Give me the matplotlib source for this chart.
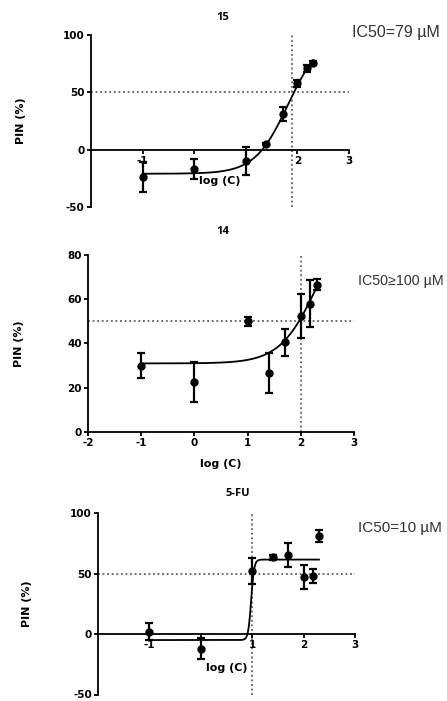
import numpy as np
import matplotlib
matplotlib.use("Agg")
import matplotlib.pyplot as plt

W, H = 447, 701                      # output size in pixels (dpi=100)

# ---- compound 15 ----
x15 = [-1, 0, 1, 1.4, 1.72, 2.0, 2.18, 2.3]
y15 = [-24, -17, -10, 5, 31, 58, 71, 76]
e15 = [13, 9, 12.5, 0.5, 6, 3, 3, 1]
fit15 = [-21, 100, 1.82, 1.35]       # bottom, top, logIC50, hill
ic15_log = 1.9
ic15_text = "IC50=79 \u00b5M"

# ---- compound 14 ----
x14 = [-1, 0, 1, 1.4, 1.7, 2.0, 2.18, 2.3]
y14 = [30, 22.6, 50, 26.5, 40.5, 52.3, 58, 66.5]
e14 = [5.5, 9, 2, 9, 6, 10, 10.5, 2.5]
fit14 = [31, 100, 2.3, 1.25]
ic14_log = 2.0
ic14_text = "IC50\u2265100 \u00b5M"

# ---- 5-FU ----
xfu = [-1, 0, 1, 1.4, 1.7, 2.0, 2.18, 2.3]
yfu = [2, -12, 52, 63.5, 65, 47, 48, 81]
efu = [7, 8.5, 11, 2, 10, 10, 5.5, 5]
fitfu = [-5, 61.5, 0.98, 15]
icfu_log = 1.0
icfu_text = "IC50=10 \u00b5M"

panels = [
    # box = axes in px (left, top, right, bottom); title / tpos = text centres in px
    dict(name="15", x=x15, y=y15, e=e15, fit=fit15, ic=ic15_log, txt=ic15_text,
         box=(91, 35, 349, 207), ylim=(-50, 100), yticks=[-50, 0, 50, 100],
         xticks=[-1, 0, 1, 2, 3], xtl=["-1", "", "", "2", "3"],
         title=(223, 18), tpos=(352, 33), tsize=11.5, xl=0.18, yl=-0.25),
    dict(name="14", x=x14, y=y14, e=e14, fit=fit14, ic=ic14_log, txt=ic14_text,
         box=(88, 255, 354, 432), ylim=(0, 80), yticks=[0, 20, 40, 60, 80],
         xticks=[-2, -1, 0, 1, 2, 3], xtl=["-2", "-1", "0", "1", "2", "3"],
         title=(223, 232), tpos=(358, 281), tsize=10.3, xl=-0.155, yl=-0.24),
    dict(name="5-FU", x=xfu, y=yfu, e=efu, fit=fitfu, ic=icfu_log, txt=icfu_text,
         box=(98, 513, 355, 694.5), ylim=(-50, 100), yticks=[-50, 0, 50, 100],
         xticks=[-1, 0, 1, 2, 3], xtl=["-1", "", "1", "2", "3"],
         title=(238, 494), tpos=(358, 528), tsize=11, xl=0.175, yl=-0.257),
]

plt.rcParams["font.family"] = ["DejaVu Sans"]
fig = plt.figure(figsize=(W / 100, H / 100), dpi=100)

for p in panels:
    l, t, r, b = p["box"]
    ax = fig.add_axes([l / W, 1 - b / H, (r - l) / W, (b - t) / H])
    ax.set_xlim(-2, 3)
    ax.set_ylim(*p["ylim"])

    # dotted guides at 50 % and at log(IC50)
    ax.axhline(50, color="#444", lw=1.1, ls=(0, (1.2, 1.8)), zorder=1)
    ax.axvline(p["ic"], color="#444", lw=1.1, ls=(0, (1.2, 1.8)), zorder=1)

    # 4-parameter logistic fit, drawn over the tested range
    bot, top, logic, hill = p["fit"]
    xs = np.linspace(min(p["x"]), max(p["x"]), 400)
    ax.plot(xs, bot + (top - bot) / (1 + 10 ** ((logic - xs) * hill)),
            color="black", lw=1.3, zorder=3)

    ax.errorbar(p["x"], p["y"], yerr=p["e"], fmt="o", color="black", ms=5,
                elinewidth=1.6, capsize=3, capthick=1.6, zorder=4)

    for s in ("top", "right"):
        ax.spines[s].set_visible(False)
    ax.spines["bottom"].set_position(("data", 0))
    for s in ("left", "bottom"):
        ax.spines[s].set_linewidth(1.3)
    ax.tick_params(direction="out", length=3, width=1.3, labelsize=7.5, pad=1.5)
    ax.set_xticks(p["xticks"])
    ax.set_xticklabels(p["xtl"], fontweight="bold")
    ax.set_yticks(p["yticks"])
    ax.set_yticklabels([str(v) for v in p["yticks"]], fontweight="bold")

    ax.set_xlabel("log (C)", fontsize=8, fontweight="bold")
    ax.xaxis.set_label_coords(0.5, p["xl"])
    ax.set_ylabel("PIN (%)", fontsize=8, fontweight="bold")
    ax.yaxis.set_label_coords(p["yl"], 0.5)

    tx, ty = p["title"]
    fig.text(tx / W, 1 - ty / H, p["name"], ha="center", va="center",
             fontsize=8, fontweight="bold", family=["Open Sans", "DejaVu Sans"])
    px, py = p["tpos"]
    fig.text(px / W, 1 - py / H, p["txt"], ha="left", va="center",
             fontsize=p["tsize"], color="#333333",
             family=["Liberation Sans", "DejaVu Sans"])

fig.savefig("out.png", dpi=100)
